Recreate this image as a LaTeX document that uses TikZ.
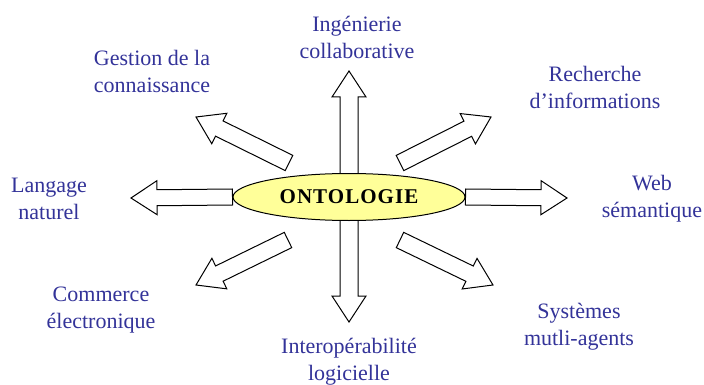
\documentclass[tikz,border=0pt]{standalone}
\usepackage{fontspec}
\setmainfont{Liberation Serif}
\newfontfamily\ontfont[LetterSpace=5]{Liberation Serif}
\usetikzlibrary{calc,shapes.geometric}
\definecolor{lblue}{RGB}{51,51,153}
\definecolor{ontfill}{RGB}{255,255,153}
\pgfdeclarelayer{bg}
\pgfsetlayers{bg,main}
\tikzset{
  fatarrow/.style={draw=black, fill=white, line width=1pt, line join=miter},
  lbl/.style={text=lblue, align=center, inner sep=0pt, font=\fontsize{22}{27}\selectfont},
  ontnode/.style={ellipse, draw=black, fill=ontfill, line width=1pt, minimum width=232pt, minimum height=47pt, inner sep=0pt, font=\fontsize{21}{24}\selectfont\ontfont\bfseries}
}
% #1 tail, #2 tip, #3 half shaft width
\newcommand\fatarr[3]{%
  \coordinate (fa-b) at ($(#2)!26pt!(#1)$);
  \draw[fatarrow] ($(#1)!#3!90:(#2)$) -- ($(fa-b)!#3!90:(#2)$) -- ($(fa-b)!17pt!90:(#2)$) -- (#2)
    -- ($(fa-b)!17pt!-90:(#2)$) -- ($(fa-b)!#3!-90:(#2)$) -- ($(#1)!#3!-90:(#2)$) -- cycle;
}
\begin{document}
\begin{tikzpicture}[x=1pt,y=-1pt]
\useasboundingbox (0,0) rectangle (704,385);
\node[ontnode] (ont) at (349,197) {ONTOLOGIE};
% tips and tails
\coordinate (tip-up) at (349,71);
\coordinate (tip-dn) at (349,322);
\coordinate (tip-l) at (131,198);
\coordinate (tip-r) at (567,198);
\coordinate (tail-ul) at (289,163);
\coordinate (tip-ul) at (196,117);
\coordinate (tail-ur) at (400,163);
\coordinate (tip-ur) at (491,117);
\coordinate (tail-ll) at (288,240);
\coordinate (tip-ll) at (196,285);
\coordinate (tail-lr) at (400,240);
\coordinate (tip-lr) at (493,285);
\begin{pgfonlayer}{bg}
\fill[white] (0,0) rectangle (704,385);
\fatarr{ont.center}{tip-up}{9pt}
\fatarr{ont.center}{tip-dn}{9pt}
\fatarr{ont.west}{tip-l}{8pt}
\fatarr{ont.east}{tip-r}{8pt}
\fatarr{tail-ul}{tip-ul}{8.5pt}
\fatarr{tail-ur}{tip-ur}{8.5pt}
\fatarr{tail-ll}{tip-ll}{8.5pt}
\fatarr{tail-lr}{tip-lr}{8.5pt}
\end{pgfonlayer}
% labels
\node[lbl] (l-ing) at (357,37) {Ingénierie\\collaborative};
\node[lbl] (l-ges) at (152,71) {Gestion de la\\connaissance};
\node[lbl] (l-rec) at (595,87.5) {Recherche\\d’informations};
\node[lbl] (l-lan) at (49,198.5) {Langage\\naturel};
\node[lbl] (l-web) at (652,198.5) {Web\\sémantique};
\node[lbl] (l-com) at (101,310) {Commerce\\électronique};
\node[lbl] (l-sys) at (579,326.5) {Systèmes\\mutli-agents};
\node[lbl] (l-int) at (349,362) {Interopérabilité\\logicielle};
\end{tikzpicture}
\end{document}
